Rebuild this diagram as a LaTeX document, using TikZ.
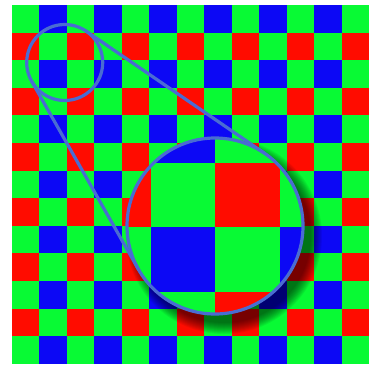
\documentclass[tikz,border=0pt]{standalone}
\usepackage{tikz}
\usepackage{xcolor}
\definecolor{bayerRed}{RGB}{255,12,0}
\definecolor{bayerGreen}{RGB}{8,250,52}
\definecolor{bayerBlue}{RGB}{12,8,245}
\definecolor{lensBlue}{RGB}{74,108,210}

\begin{document}
\begin{tikzpicture}[
    x=1pt,y=-1pt,
    lens/.style={circle,draw=lensBlue,line width=3.2pt,inner sep=0pt,outer sep=0pt},
    tangentline/.style={draw=lensBlue,line width=3.2pt,line cap=round}
  ]
    \useasboundingbox (0,0) rectangle (369,367);
    % sensor mosaic
    \fill[bayerGreen] (12,5) rectangle (369,364);
    \foreach \r in {1,3,...,11}
      \foreach \c in {0,2,...,12}
        \fill[bayerRed] ({12+27.46*\c},{5+27.6*\r}) rectangle ++(27.46,27.6);
    \foreach \r in {0,2,...,12}
      \foreach \c in {1,3,...,11}
        \fill[bayerBlue] ({12+27.46*\c},{5+27.6*\r}) rectangle ++(27.46,27.6);
    % shadow
    \foreach \k in {0,...,11}
      \fill[black,opacity=0.06] (224,236) circle ({87+\k});
    % magnified view
    \begin{scope}
      \clip (215,226) circle (88);
      \fill[bayerGreen] (86,98) rectangle (344,356);
      \foreach \r in {1,3}
        \foreach \c in {0,2}
          \fill[bayerRed] ({86+64.5*\c},{98+64.5*\r}) rectangle ++(64.5,64.5);
      \foreach \r in {0,2}
        \foreach \c in {1,3}
          \fill[bayerBlue] ({86+64.5*\c},{98+64.5*\r}) rectangle ++(64.5,64.5);
    \end{scope}
    \node[lens,minimum size=176pt] (zoomview) at (215,226) {};
    \node[lens,minimum size=76pt] (loupe) at (64.7,62.5) {};
    \draw[tangentline] (loupe.56) -- (zoomview.56);
    \draw[tangentline] (loupe.210) -- (zoomview.210);
\end{tikzpicture}
\end{document}
